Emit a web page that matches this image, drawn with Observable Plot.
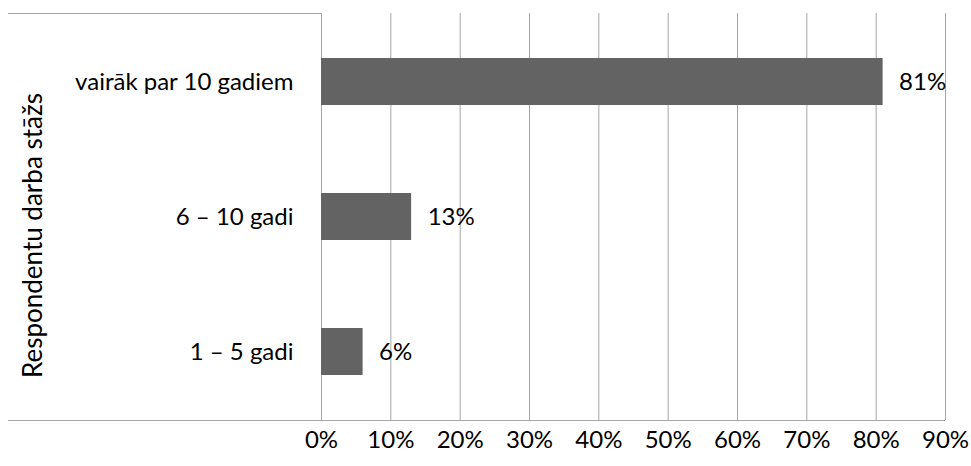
<!DOCTYPE html>
<html>
<head>
<meta charset="utf-8">
<script src="https://cdn.jsdelivr.net/npm/d3@7"></script>
<script src="https://cdn.jsdelivr.net/npm/@observablehq/plot@0.6"></script>
<style>
  html, body { margin: 0; padding: 0; background: #fff; }
  #chart { width: 971px; height: 466px; }
</style>
</head>
<body>
<div id="chart"></div>
<script>
const categories = ["vairāk par 10 gadiem", "6 – 10 gadi", "1 – 5 gadi"];
const values = [0.81, 0.13, 0.06];
const valueLabels = ["81%", "13%", "6%"];
const xTicks = [0, 0.1, 0.2, 0.3, 0.4, 0.5, 0.6, 0.7, 0.8, 0.9];
const yTitle = "Respondentu darba stāžs";

const data = categories.map((c, i) => ({cat: c, value: values[i], label: valueLabels[i]}));

const W = 971, H = 466;
const mL = 321, mR = 26, mT = 13, mB = 46;
const gridColor = "#a6a6a6";
const labelFont = "Lato, 'Open Sans', sans-serif";
const fs = 24;

const plot = Plot.plot({
  width: W,
  height: H,
  marginLeft: mL,
  marginRight: mR,
  marginTop: mT,
  marginBottom: mB,
  style: {fontFamily: labelFont, fontSize: fs + "px", color: "#000", background: "#fff"},
  x: {domain: [0, 0.9], ticks: xTicks, tickFormat: d => Math.round(d * 100) + "%", label: null},
  y: {domain: categories, paddingInner: 0.65, paddingOuter: 0.325, label: null},
  marks: [
    Plot.gridX(xTicks, {stroke: gridColor, strokeOpacity: 1, strokeWidth: 1}),
    Plot.barX(data, {x: "value", y: "cat", fill: "#636363"}),
    Plot.text(data, {x: "value", y: "cat", text: "label", dx: 16, textAnchor: "start", fill: "#000", fontSize: fs}),
    Plot.axisX({ticks: xTicks, tickSize: 0, tickPadding: 10, tickFormat: d => Math.round(d * 100) + "%", fontSize: fs, label: null}),
    Plot.axisY({tickSize: 0, tickPadding: 28, fontSize: fs, label: null})
  ]
});

// frame lines drawn from the plot's own scales
const svg = d3.select(plot);
const xs = plot.scale("x");
const x0 = xs.range[0], x1 = xs.range[1];
const yTop = mT, yBot = H - mB;
svg.append("line").attr("x1", 8).attr("x2", x0).attr("y1", yTop + 0.5).attr("y2", yTop + 0.5)
  .attr("stroke", gridColor);
svg.append("line").attr("x1", 8).attr("x2", x1).attr("y1", yBot + 0.5).attr("y2", yBot + 0.5)
  .attr("stroke", gridColor);
// y-axis title
svg.append("text")
  .attr("transform", `translate(42, ${(yTop + yBot) / 2 + 19}) rotate(-90)`)
  .attr("text-anchor", "middle")
  .attr("font-family", labelFont)
  .attr("font-size", 26)
  .attr("fill", "#000")
  .text(yTitle);

document.getElementById("chart").appendChild(plot);
</script>
</body>
</html>
